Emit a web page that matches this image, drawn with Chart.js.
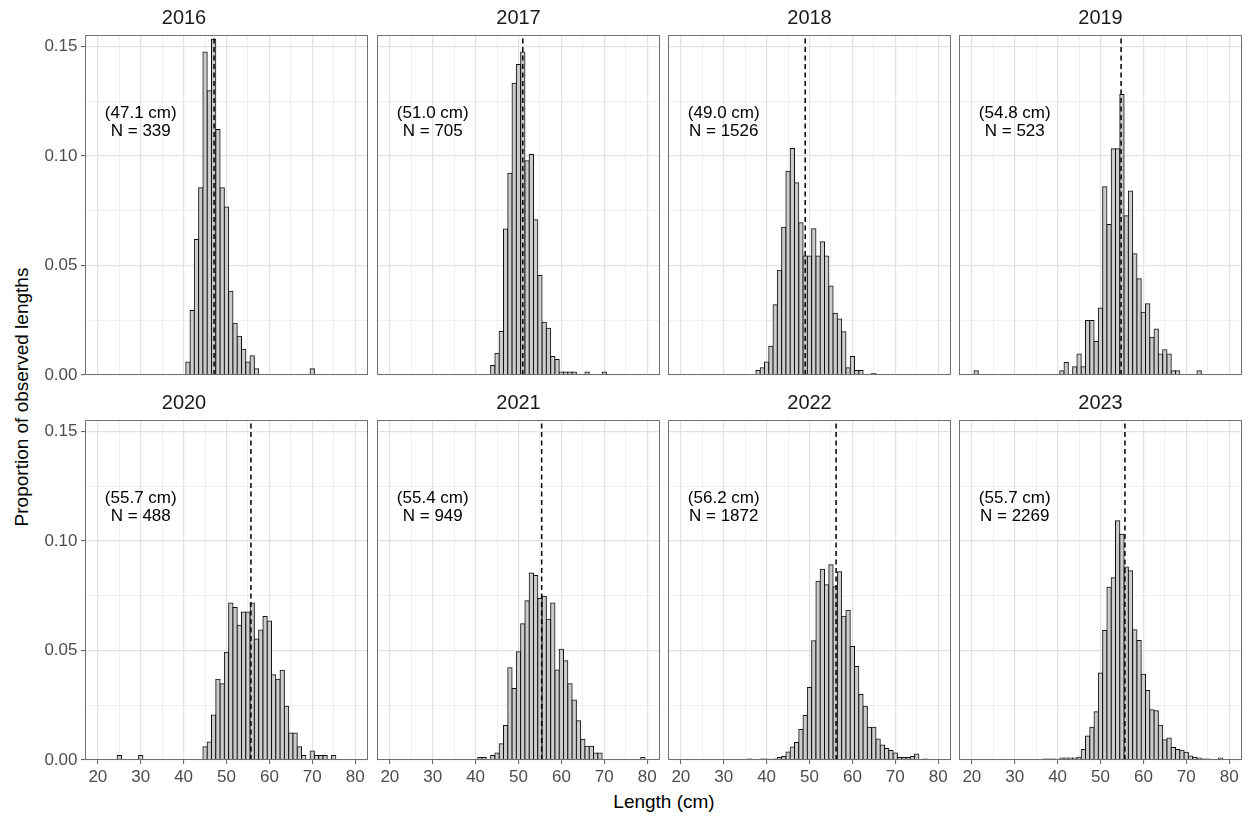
<!DOCTYPE html>
<html>
<head>
<meta charset="utf-8">
<title>Proportion of observed lengths by year</title>
<script src="https://cdn.jsdelivr.net/npm/chart.js@4.4.1/dist/chart.umd.min.js"></script>
<style>
  html, body { margin: 0; padding: 0; background: #ffffff; }
  #figure { position: relative; width: 1250px; height: 816px; overflow: hidden; background: #ffffff;
            font-family: "Liberation Sans", Arial, sans-serif; }
  .panel { position: absolute; }
  .panel canvas { display: block; }
  #yTitle { position: absolute; left: 22px; top: 397px; transform: translate(-50%, -50%) rotate(-90deg);
            white-space: nowrap; font-size: 19px; color: #000; }
  #xTitle { position: absolute; left: 664px; top: 802px; transform: translate(-50%, -50%);
            white-space: nowrap; font-size: 19px; color: #000; }
</style>
</head>
<body>
<div id="figure">
  <div id="yTitle">Proportion of observed lengths</div>
  <div id="xTitle">Length (cm)</div>
</div>
<script>
// ---------------- data ----------------
const years = ['2016', '2017', '2018', '2019', '2020', '2021', '2022', '2023'];
const meanLength = [47.1, 51.0, 49.0, 54.8, 55.7, 55.4, 56.2, 55.7];
const sampleSize = [339, 705, 1526, 523, 488, 949, 1872, 2269];

const len2016 = [41, 42, 43, 44, 45, 46, 47, 48, 49, 50, 51, 52, 53, 54, 55, 56, 57, 70];
const prop2016 = [0.0059, 0.0295, 0.0619, 0.0855, 0.1475, 0.1298, 0.1534, 0.1121, 0.0855, 0.0767, 0.0383, 0.0236, 0.0177, 0.0118, 0.0059, 0.0088, 0.0029, 0.0029];

const len2017 = [44, 45, 46, 47, 48, 49, 50, 51, 52, 53, 54, 55, 56, 57, 58, 59, 60, 61, 62, 63, 66, 70];
const prop2017 = [0.0043, 0.0099, 0.0199, 0.0667, 0.0922, 0.1333, 0.1418, 0.1475, 0.0979, 0.1007, 0.0709, 0.0454, 0.0241, 0.0213, 0.0085, 0.0071, 0.0014, 0.0014, 0.0014, 0.0014, 0.0014, 0.0014];

const len2018 = [38, 39, 40, 41, 42, 43, 44, 45, 46, 47, 48, 49, 50, 51, 52, 53, 54, 55, 56, 57, 58, 59, 60, 61, 62, 65];
const prop2018 = [0.0020, 0.0033, 0.0059, 0.0131, 0.0321, 0.0478, 0.0675, 0.0931, 0.1035, 0.0878, 0.0695, 0.0544, 0.0544, 0.0668, 0.0544, 0.0609, 0.0544, 0.0406, 0.0282, 0.0256, 0.0197, 0.0033, 0.0085, 0.0020, 0.0020, 0.0007];

const len2019 = [21, 41, 42, 44, 45, 46, 47, 48, 49, 50, 51, 52, 53, 54, 55, 56, 57, 58, 59, 60, 61, 62, 63, 64, 65, 66, 67, 68, 73];
const prop2019 = [0.0019, 0.0019, 0.0057, 0.0038, 0.0096, 0.0038, 0.0249, 0.0249, 0.0153, 0.0306, 0.0860, 0.0688, 0.1033, 0.1033, 0.1281, 0.0727, 0.0841, 0.0554, 0.0440, 0.0287, 0.0325, 0.0172, 0.0210, 0.0096, 0.0115, 0.0096, 0.0019, 0.0019, 0.0019];

const len2020 = [25, 30, 45, 46, 47, 48, 49, 50, 51, 52, 53, 54, 55, 56, 57, 58, 59, 60, 61, 62, 63, 64, 65, 66, 67, 68, 70, 71, 72, 73, 75];
const prop2020 = [0.0020, 0.0020, 0.0061, 0.0082, 0.0205, 0.0369, 0.0348, 0.0492, 0.0717, 0.0697, 0.0615, 0.0676, 0.0676, 0.0717, 0.0553, 0.0594, 0.0656, 0.0635, 0.0389, 0.0369, 0.0410, 0.0246, 0.0123, 0.0123, 0.0061, 0.0020, 0.0041, 0.0020, 0.0020, 0.0020, 0.0020];

const len2021 = [41, 42, 44, 45, 46, 47, 48, 49, 50, 51, 52, 53, 54, 55, 56, 57, 58, 59, 60, 61, 62, 63, 64, 65, 66, 67, 68, 69, 79];
const prop2021 = [0.0011, 0.0011, 0.0021, 0.0032, 0.0074, 0.0158, 0.0421, 0.0327, 0.0495, 0.0622, 0.0727, 0.0854, 0.0843, 0.0738, 0.0748, 0.0643, 0.0717, 0.0411, 0.0506, 0.0453, 0.0348, 0.0274, 0.0179, 0.0095, 0.0063, 0.0063, 0.0032, 0.0032, 0.0011];

const len2022 = [36, 39, 40, 42, 43, 44, 45, 46, 47, 48, 49, 50, 51, 52, 53, 54, 55, 56, 57, 58, 59, 60, 61, 62, 63, 64, 65, 66, 67, 68, 69, 70, 71, 72, 73, 74, 75, 77];
const prop2022 = [0.0005, 0.0005, 0.0005, 0.0005, 0.0011, 0.0016, 0.0037, 0.0059, 0.0080, 0.0139, 0.0203, 0.0331, 0.0545, 0.0817, 0.0871, 0.0801, 0.0892, 0.0791, 0.0860, 0.0657, 0.0684, 0.0518, 0.0427, 0.0299, 0.0246, 0.0150, 0.0150, 0.0096, 0.0069, 0.0053, 0.0043, 0.0032, 0.0011, 0.0011, 0.0011, 0.0016, 0.0027, 0.0005];

const len2023 = [37, 38, 39, 41, 42, 43, 44, 45, 46, 47, 48, 49, 50, 51, 52, 53, 54, 55, 56, 57, 58, 59, 60, 61, 62, 63, 64, 65, 66, 67, 68, 69, 70, 71, 72, 73, 74, 75, 78];
const prop2023 = [0.0004, 0.0004, 0.0004, 0.0009, 0.0009, 0.0009, 0.0009, 0.0013, 0.0048, 0.0110, 0.0150, 0.0220, 0.0397, 0.0591, 0.0789, 0.0833, 0.1093, 0.1031, 0.0881, 0.0864, 0.0595, 0.0546, 0.0392, 0.0317, 0.0229, 0.0225, 0.0159, 0.0093, 0.0101, 0.0057, 0.0048, 0.0044, 0.0035, 0.0018, 0.0013, 0.0009, 0.0004, 0.0004, 0.0009];

const xTickLabels = [20, 30, 40, 50, 60, 70, 80];
const xMinorBreaks = [25, 35, 45, 55, 65, 75];
const yBreaks = [0, 0.05, 0.10, 0.15];
const yTickLabels = ['0.00', '0.05', '0.10', '0.15'];
const yMinorBreaks = [0.025, 0.075, 0.125];

const lengthsByYear = [len2016, len2017, len2018, len2019, len2020, len2021, len2022, len2023];
const propsByYear = [prop2016, prop2017, prop2018, prop2019, prop2020, prop2021, prop2022, prop2023];

// ---------------- layout / style ----------------
const FONT = '"Liberation Sans", Arial, sans-serif';
const X_MIN = 17, X_MAX = 83, Y_MAX = 0.1553;
const ANNOT_X = 30, ANNOT_Y1 = 0.1195, ANNOT_Y2 = 0.1113;

const COL_LEFT = [85, 377, 668, 959];
const ROW_TOP = [35, 420];
const PW = 283, PH = 340;
const TOP_EXTRA = 32, SIDE = 4, Y_AXIS_W = 85, BOTTOM_ROW0 = 16, X_AXIS_H = 40;
const TITLE_SIZE = 20, TITLE_ABOVE = 17, TICK_SIZE = 17, NOTE_SIZE = 17;
const titleLine = TITLE_SIZE * 1.2;
const titlePadTop = TOP_EXTRA - TITLE_ABOVE - titleLine / 2;
const titlePadBottom = TOP_EXTRA - titlePadTop - titleLine;

const xGrid = xTickLabels.concat(xMinorBreaks).sort((a, b) => a - b);
const yGrid = yBreaks.concat(yMinorBreaks).sort((a, b) => a - b);
const isMajorX = v => xTickLabels.includes(v);
const isMajorY = v => yBreaks.includes(v);

const figure = document.getElementById('figure');

years.forEach((yr, i) => {
  const r = Math.floor(i / 4), c = i % 4;
  const isLeft = c === 0, isBottom = r === 1;
  const L = isLeft ? Y_AXIS_W : SIDE;
  const B = isBottom ? X_AXIS_H : BOTTOM_ROW0;
  const cw = L + PW + SIDE, ch = TOP_EXTRA + PH + B;

  const div = document.createElement('div');
  div.className = 'panel';
  div.style.left = (COL_LEFT[c] - L) + 'px';
  div.style.top = (ROW_TOP[r] - TOP_EXTRA) + 'px';
  const cv = document.createElement('canvas');
  cv.width = cw; cv.height = ch;
  cv.style.width = cw + 'px'; cv.style.height = ch + 'px';
  div.appendChild(cv);
  figure.appendChild(div);

  const decor = {
    id: 'panelDecor' + i,
    afterDatasetsDraw(chart) {
      const { ctx, scales } = chart;
      const x = scales.x.getPixelForValue(ANNOT_X);
      ctx.save();
      ctx.fillStyle = '#000000';
      ctx.font = NOTE_SIZE + 'px ' + FONT;
      ctx.textAlign = 'center';
      ctx.textBaseline = 'middle';
      ctx.fillText('(' + meanLength[i].toFixed(1) + ' cm)', x, scales.y.getPixelForValue(ANNOT_Y1));
      ctx.fillText('N = ' + sampleSize[i], x, scales.y.getPixelForValue(ANNOT_Y2));
      ctx.restore();
    },
    afterDraw(chart) {
      const a = chart.chartArea, ctx = chart.ctx;
      ctx.save();
      ctx.strokeStyle = '#707070';
      ctx.lineWidth = 1;
      ctx.strokeRect(Math.round(a.left) + 0.5, Math.round(a.top) + 0.5,
                     Math.round(a.right - a.left) - 1, Math.round(a.bottom - a.top) - 1);
      ctx.restore();
    }
  };

  const lens = lengthsByYear[i], props = propsByYear[i];

  new Chart(cv, {
    type: 'bar',
    data: {
      datasets: [
        {
          type: 'line', order: 0,
          data: [{ x: meanLength[i], y: 0 }, { x: meanLength[i], y: Y_MAX }],
          borderColor: '#000000', borderWidth: 1.5, borderDash: [5, 3.5],
          pointRadius: 0, fill: false
        },
        {
          type: 'bar', order: 1,
          data: lens.map((x, k) => ({ x: x, y: props[k] })),
          backgroundColor: '#cbcbcb', borderColor: '#111111', borderWidth: 1,
          inflateAmount: 0.5,
          barPercentage: 1, categoryPercentage: 1, borderSkipped: 'start'
        }
      ]
    },
    options: {
      responsive: false, maintainAspectRatio: false, animation: false,
      devicePixelRatio: 1, events: [],
      layout: { padding: { left: isLeft ? 0 : SIDE, right: SIDE, top: titlePadTop, bottom: isBottom ? 0 : B } },
      plugins: {
        legend: { display: false },
        tooltip: { enabled: false },
        title: {
          display: true, text: yr, color: '#1a1a1a',
          font: { family: FONT, size: TITLE_SIZE, weight: 'normal' },
          padding: { top: 0, bottom: titlePadBottom }
        }
      },
      scales: {
        x: {
          type: 'linear', min: X_MIN, max: X_MAX, offset: false,
          afterBuildTicks: s => { s.ticks = xGrid.map(v => ({ value: v })); },
          afterFit: s => { s.height = isBottom ? X_AXIS_H : 0; },
          ticks: {
            display: isBottom, autoSkip: false, maxRotation: 0, minRotation: 0, padding: 3,
            color: '#4d4d4d', font: { family: FONT, size: TICK_SIZE },
            callback: v => (isMajorX(v) ? String(v) : '')
          },
          grid: {
            offset: false,
            color: ctx => (ctx.tick && isMajorX(ctx.tick.value) ? '#e2e2e2' : '#ececec'),
            lineWidth: ctx => (ctx.tick && isMajorX(ctx.tick.value) ? 1.2 : 0.8),
            drawTicks: isBottom, tickLength: 4, tickWidth: 1,
            tickColor: ctx => (ctx.tick && isMajorX(ctx.tick.value) ? '#555555' : 'rgba(0,0,0,0)')
          },
          border: { display: false }
        },
        y: {
          type: 'linear', min: 0, max: Y_MAX,
          afterBuildTicks: s => { s.ticks = yGrid.map(v => ({ value: v })); },
          afterFit: s => { s.width = isLeft ? Y_AXIS_W : 0; },
          ticks: {
            display: isLeft, padding: 3.5, color: '#4d4d4d', font: { family: FONT, size: TICK_SIZE },
            callback: v => { const k = yBreaks.indexOf(v); return k >= 0 ? yTickLabels[k] : ''; }
          },
          grid: {
            color: ctx => (ctx.tick && isMajorY(ctx.tick.value) ? '#e2e2e2' : '#ececec'),
            lineWidth: ctx => (ctx.tick && isMajorY(ctx.tick.value) ? 1.2 : 0.8),
            drawTicks: isLeft, tickLength: 4, tickWidth: 1,
            tickColor: ctx => (ctx.tick && isMajorY(ctx.tick.value) ? '#555555' : 'rgba(0,0,0,0)')
          },
          border: { display: false }
        }
      }
    },
    plugins: [decor]
  });
});
</script>
</body>
</html>
